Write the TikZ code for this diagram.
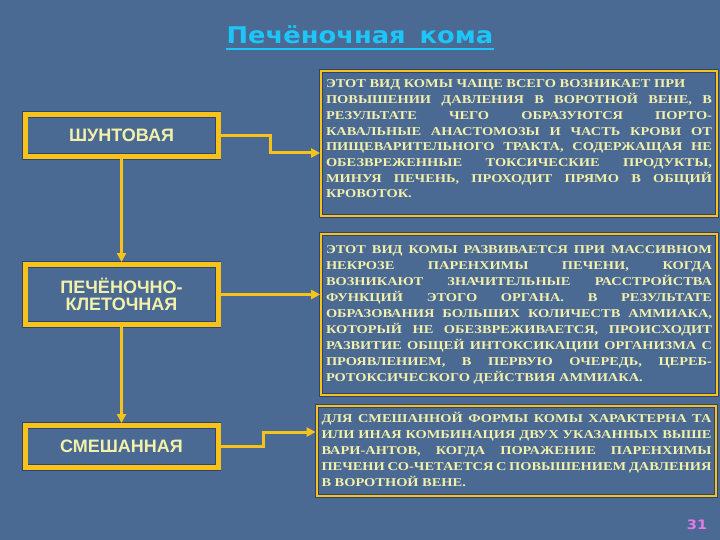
\documentclass[tikz,border=0pt]{standalone}
\usepackage{fontspec}
\usetikzlibrary{arrows.meta}
\setmainfont{Liberation Serif}
\newfontfamily\titlefont[FakeStretch=1.12]{DejaVu Sans}
\newfontfamily\boxsans{Liberation Sans}
\newfontfamily\boxserif[FakeStretch=1.2]{Liberation Serif}
\definecolor{bg}{RGB}{74,106,148}
\definecolor{darkedge}{RGB}{48,68,108}
\definecolor{gold}{RGB}{247,195,26}
\definecolor{cream}{RGB}{242,240,170}
\definecolor{cyantitle}{RGB}{28,198,248}
\definecolor{pagenum}{RGB}{226,122,232}
\begin{document}
\begin{tikzpicture}[x=1pt,y=-1pt,
  leftbox/.style={preaction={draw=darkedge,line width=6.6pt},draw=gold,line width=5pt,minimum width=193pt,inner sep=0pt,align=center,text=cream,
    font=\boxsans\bfseries\fontsize{18}{17.5}\selectfont},
  rightbox/.style={preaction={draw=darkedge,line width=4pt},draw=gold,line width=2.3pt,inner xsep=4.75pt,inner ysep=0pt,align=justify,text=cream,
    font=\boxserif\bfseries\fontsize{12}{16}\selectfont},
  conn/.style={draw=gold,line width=3pt},
  arr/.style={conn,-{Triangle[length=9pt,width=9pt]}},
]
\fill[bg] (0,0) rectangle (720,540);

% title
\node[font=\titlefont\bfseries\fontsize{23}{27}\selectfont,text=cyantitle,anchor=base,inner sep=0pt] (title) at (360,44) {Печёночная\hspace{14pt}кома};
\draw[cyantitle,line width=2pt] ([yshift=-5pt]title.base west) -- ([yshift=-5pt]title.base east);

% left boxes
\node[leftbox,minimum height=42pt] (b1) at (121.5,135.5) {ШУНТОВАЯ};
\node[leftbox,minimum height=60pt] (b2) at (121.5,294.5) {\rule{0pt}{3pt}ПЕЧЁНОЧНО-\\КЛЕТОЧНАЯ};
\node[leftbox,minimum height=42pt] (b3) at (121.5,446.5) {СМЕШАННАЯ};

% right boxes
\node[rightbox,text width=386pt,minimum height=144.5pt] (ra) at (519,143.5) {\fontsize{12}{15.7}\selectfont\hyphenpenalty=10000 \tolerance=9999
ЭТОТ ВИД КОМЫ ЧАЩЕ ВСЕГО ВОЗНИКАЕТ ПРИ\\
ПОВЫШЕНИИ ДАВЛЕНИЯ В ВОРОТНОЙ ВЕНЕ, В\linebreak
РЕЗУЛЬТАТЕ ЧЕГО ОБРАЗУЮТСЯ ПОРТО-\linebreak
КАВАЛЬНЫЕ АНАСТОМОЗЫ И ЧАСТЬ КРОВИ ОТ\linebreak
ПИЩЕВАРИТЕЛЬНОГО ТРАКТА, СОДЕРЖАЩАЯ НЕ\linebreak
ОБЕЗВРЕЖЕННЫЕ ТОКСИЧЕСКИЕ ПРОДУКТЫ,\linebreak
МИНУЯ ПЕЧЕНЬ, ПРОХОДИТ ПРЯМО В ОБЩИЙ\linebreak
КРОВОТОК.\par\vspace{9pt}};

\node[rightbox,text width=386pt,minimum height=160.5pt] (rb) at (519,314.5) {\hyphenpenalty=10000 \tolerance=9999
ЭТОТ ВИД КОМЫ РАЗВИВАЕТСЯ ПРИ МАССИВНОМ\linebreak
НЕКРОЗЕ ПАРЕНХИМЫ ПЕЧЕНИ, КОГДА\linebreak
ВОЗНИКАЮТ ЗНАЧИТЕЛЬНЫЕ РАССТРОЙСТВА\linebreak
ФУНКЦИЙ ЭТОГО ОРГАНА. В РЕЗУЛЬТАТЕ\linebreak
ОБРАЗОВАНИЯ БОЛЬШИХ КОЛИЧЕСТВ АММИАКА,\linebreak
КОТОРЫЙ НЕ ОБЕЗВРЕЖИВАЕТСЯ, ПРОИСХОДИТ\linebreak
РАЗВИТИЕ ОБЩЕЙ ИНТОКСИКАЦИИ ОРГАНИЗМА С\linebreak
ПРОЯВЛЕНИЕМ, В ПЕРВУЮ ОЧЕРЕДЬ, ЦЕРЕБ-\linebreak
РОТОКСИЧЕСКОГО ДЕЙСТВИЯ АММИАКА.};

\node[rightbox,text width=390pt,minimum height=89.5pt] (rc) at (516.5,451) {\hyphenpenalty=10000 \tolerance=9999
ДЛЯ СМЕШАННОЙ ФОРМЫ КОМЫ ХАРАКТЕРНА ТА\linebreak
ИЛИ ИНАЯ КОМБИНАЦИЯ ДВУХ УКАЗАННЫХ ВЫШЕ\linebreak
ВАРИ-АНТОВ, КОГДА ПОРАЖЕНИЕ ПАРЕНХИМЫ\linebreak
ПЕЧЕНИ СО-ЧЕТАЕТСЯ С ПОВЫШЕНИЕМ ДАВЛЕНИЯ\linebreak
В ВОРОТНОЙ ВЕНЕ.\par\vspace{4pt}};

% connectors
\coordinate (e1) at (270,153);
\coordinate (e3) at (263,432);
\draw[arr] (b1.south) -- (b2.north);
\draw[arr] (b2.south) -- (b3.north);
\draw[arr] (b1.east) -| (e1) -- (e1 -| ra.west);
\draw[arr] (b2.east) -- (b2.east -| rb.west);
\draw[arr] (b3.east) -| (e3) -- (e3 -| rc.west);

% page number
\node[font=\titlefont\bfseries\fontsize{13}{15}\selectfont,text=pagenum,inner sep=0pt] (pg) at (697,525) {31};
\end{tikzpicture}
\end{document}
